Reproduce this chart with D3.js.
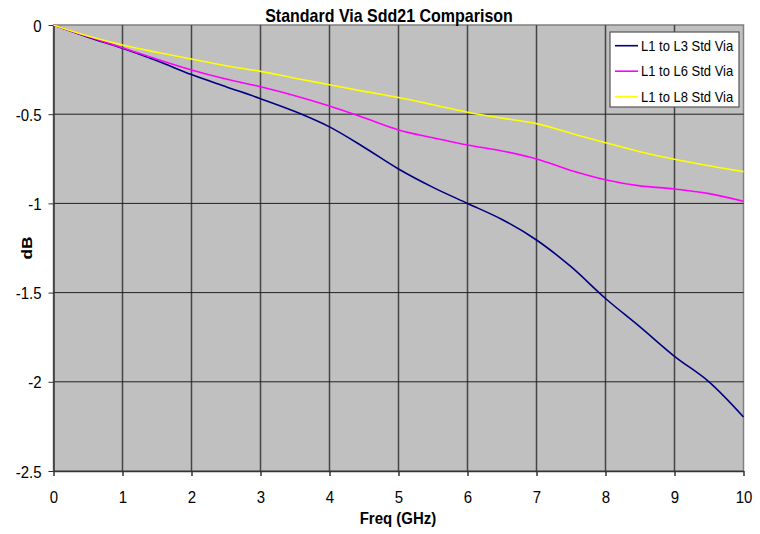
<!DOCTYPE html>
<html>
<head>
<meta charset="utf-8">
<script src="https://cdn.jsdelivr.net/npm/d3@7"></script>
<style>
  body { margin: 0; background: #fff; }
  text { font-family: "Liberation Sans", Arial, sans-serif; fill: #000; }
</style>
</head>
<body>
<div id="chartbox"></div>
<script>
const WIDTH = 760
const HEIGHT = 534
const plot = { left: 53.5, right: 743.5, top: 25, bottom: 471 }
const STRETCH = 1.15

// values (GHz, dB)
const freq = [0, 0.5, 1, 1.5, 2, 2.5, 3, 3.5, 4, 4.5, 5, 5.5, 6, 6.5, 7, 7.5, 8, 8.5, 9, 9.5, 10]
const l3 = [0, -0.068, -0.13, -0.2, -0.278, -0.346, -0.413, -0.485, -0.571, -0.685, -0.807, -0.91, -1.0, -1.09, -1.205, -1.355, -1.533, -1.692, -1.857, -2.0, -2.197]
const l6 = [0, -0.065, -0.127, -0.192, -0.252, -0.303, -0.346, -0.396, -0.454, -0.52, -0.588, -0.632, -0.673, -0.706, -0.751, -0.815, -0.867, -0.902, -0.919, -0.945, -0.988]
const l8 = [0, -0.062, -0.112, -0.153, -0.191, -0.228, -0.26, -0.298, -0.335, -0.372, -0.406, -0.447, -0.489, -0.522, -0.553, -0.607, -0.66, -0.71, -0.753, -0.789, -0.822]

const seriesNames = ['L1 to L3 Std Via', 'L1 to L6 Std Via', 'L1 to L8 Std Via']
const seriesColors = ['#000080', '#ff00ff', '#ffff00']
const xTicks = [0, 1, 2, 3, 4, 5, 6, 7, 8, 9, 10]
const yTicks = [0, -0.5, -1, -1.5, -2, -2.5]

const series = [l3, l6, l8].map((vals, i) => ({
  name: seriesNames[i],
  color: seriesColors[i],
  points: vals.map((v, j) => ({ f: freq[j], db: v }))
}))

const x = d3.scaleLinear().domain([0, 10]).range([plot.left, plot.right])
const y = d3.scaleLinear().domain([-2.5, 0]).range([plot.bottom, plot.top])

const svg = d3.select('#chartbox')
  .append('svg')
  .attr('width', WIDTH)
  .attr('height', HEIGHT)

// plot area
svg.append('rect')
  .attr('x', plot.left)
  .attr('y', plot.top)
  .attr('width', plot.right - plot.left)
  .attr('height', plot.bottom - plot.top)
  .attr('fill', '#c0c0c0')
  .attr('stroke', '#808080')
  .attr('stroke-width', 1.5)

// grid
svg.append('g')
  .selectAll('line')
  .data(xTicks.slice(1, -1))
  .enter()
  .append('line')
  .attr('x1', d => x(d)).attr('x2', d => x(d))
  .attr('y1', plot.top).attr('y2', plot.bottom)
  .attr('stroke', '#444')
  .attr('stroke-width', 1.5)

svg.append('g')
  .selectAll('line')
  .data(yTicks.slice(1, -1))
  .enter()
  .append('line')
  .attr('x1', plot.left).attr('x2', plot.right)
  .attr('y1', d => y(d)).attr('y2', d => y(d))
  .attr('stroke', '#222')
  .attr('stroke-width', 1)

// axes
const xAxis = svg.append('g')
  .attr('transform', 'translate(0,' + plot.bottom + ')')
  .call(d3.axisBottom(x).tickValues(xTicks).tickSize(5).tickSizeOuter(0).tickFormat(d3.format('d')))
xAxis.select('.domain').attr('stroke', '#333').attr('stroke-width', 1.5)
xAxis.selectAll('.tick line').attr('stroke', '#333').attr('stroke-width', 1.5)
xAxis.selectAll('text')
  .attr('y', 0).attr('dy', 0)
  .attr('transform', 'translate(0,32) scale(1,' + STRETCH + ')')
  .style('font-size', '15px')
  .attr('fill', '#000')

const yAxis = svg.append('g')
  .attr('transform', 'translate(' + plot.left + ',0)')
  .call(d3.axisLeft(y).tickValues(yTicks).tickSize(5).tickSizeOuter(0).tickFormat(d => d))
yAxis.select('.domain').attr('stroke', '#333').attr('stroke-width', 1.5)
yAxis.selectAll('.tick line').attr('stroke', '#333')
yAxis.selectAll('text')
  .attr('x', 0).attr('dy', 0)
  .attr('transform', 'translate(-12,6) scale(1,' + STRETCH + ')')
  .style('font-size', '15px')
  .attr('fill', '#000')

// curves
const line = d3.line()
  .x(d => x(d.f))
  .y(d => y(d.db))
  .curve(d3.curveCatmullRom.alpha(0.5))

svg.append('g')
  .selectAll('path')
  .data(series)
  .enter()
  .append('path')
  .attr('d', d => line(d.points))
  .attr('fill', 'none')
  .attr('stroke', d => d.color)
  .attr('stroke-width', 1.6)

// titles
svg.append('text')
  .attr('transform', 'translate(389,21.5) scale(1,' + STRETCH + ')')
  .attr('text-anchor', 'middle')
  .style('font-size', '16px')
  .style('font-weight', 'bold')
  .text('Standard Via Sdd21 Comparison')

svg.append('text')
  .attr('transform', 'translate(398,524) scale(1,' + STRETCH + ')')
  .attr('text-anchor', 'middle')
  .style('font-size', '15px')
  .style('font-weight', 'bold')
  .text('Freq (GHz)')

svg.append('text')
  .attr('transform', 'translate(32,248) rotate(-90) scale(' + STRETCH + ',1)')
  .attr('text-anchor', 'middle')
  .style('font-size', '15px')
  .style('font-weight', 'bold')
  .text('dB')

// legend
const legend = svg.append('g').attr('transform', 'translate(610,32)')
legend.append('rect')
  .attr('width', 129)
  .attr('height', 75)
  .attr('fill', '#fff')
  .attr('stroke', '#555')
  .attr('stroke-width', 1.2)

const rows = legend.selectAll('g.row')
  .data(series)
  .enter()
  .append('g')
  .attr('class', 'row')
  .attr('transform', (d, i) => 'translate(0,' + (13.7 + i * 25.5) + ')')

rows.append('line')
  .attr('x1', 5).attr('x2', 28)
  .attr('stroke', d => d.color)
  .attr('stroke-width', 1.6)

rows.append('text')
  .attr('transform', 'translate(31,5) scale(1,' + STRETCH + ')')
  .style('font-size', '13px')
  .text(d => d.name)
</script>
</body>
</html>
